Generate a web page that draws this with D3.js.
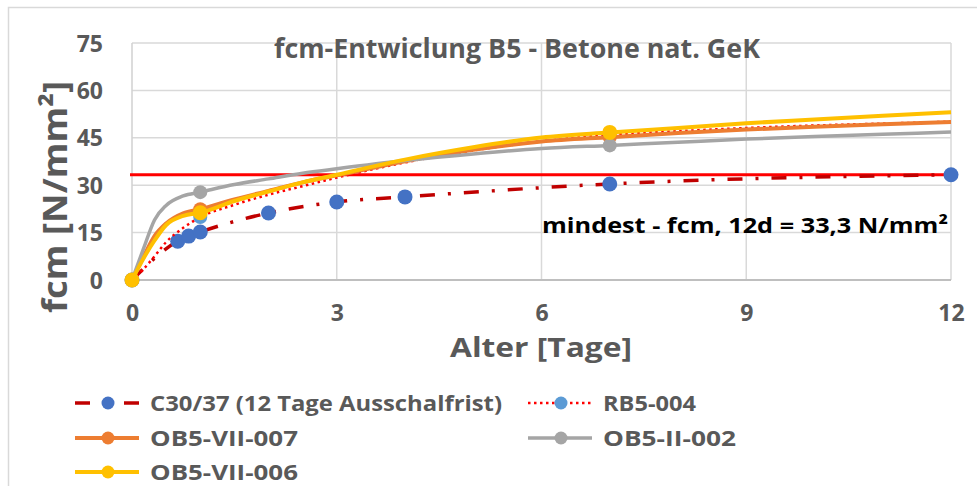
<!DOCTYPE html>
<html>
<head>
<meta charset="utf-8">
<script src="https://cdn.jsdelivr.net/npm/d3@7"></script>
<style>
body{margin:0;background:#fff;}
text{font-family:"Open Sans", "DejaVu Sans", sans-serif;}
</style>
</head>
<body>
<script>
// C30/37 reference curve (measured points)
var c30Days = [0, 0.67, 0.83, 1, 2, 3, 4, 7, 12];
var c30Values = [0, 12.3, 13.9, 15.2, 21.2, 24.7, 26.3, 30.4, 33.3];

// days used for the smooth curves of the mixes
var curveDays = [0, 0.17, 0.33, 0.5, 0.75, 1, 1.5, 2, 2.5, 3, 4, 5, 6, 7, 8, 9, 10, 11, 12];
var rb5Curve = [0, 3.5, 7.5, 12, 16.5, 19.9, 23.8, 27, 29.7, 32.4, 37.2, 41, 43.9, 45.9, 47.1, 48.1, 48.9, 49.5, 50.1];
var ob7Curve = [0, 7.4, 13.9, 17.9, 21.1, 22.4, 25.5, 28.2, 30.9, 33.1, 37.6, 41.2, 43.8, 45.2, 46.5, 47.6, 48.5, 49.3, 50.0];
var ob2Curve = [0, 10, 19, 23.6, 26.6, 27.8, 30.2, 32, 33.8, 35.2, 37.8, 39.9, 41.6, 42.6, 43.6, 44.6, 45.4, 46.1, 46.8];
var ob6Curve = [0, 6.9, 12.5, 17.4, 20.3, 21.3, 25, 28, 30.9, 33.3, 38.1, 42, 45.1, 46.7, 48.1, 49.6, 50.8, 52, 53.1];

// measured points of the mixes
var markDays = [0, 1, 7];
var rb5Marks = [0, 19.9, 45.9];
var ob7Marks = [0, 22.4, 45.2];
var ob2Marks = [0, 27.8, 42.6];
var ob6Marks = [0, 21.3, 46.7];

var minFcm = 33.3;
var xTicks = [0, 3, 6, 9, 12];
var yTicks = [0, 15, 30, 45, 60, 75];

var W = 977, H = 486;
var pLeft = 132, pRight = 951, pTop = 43, pBottom = 280;
var grey = '#595959';

var svg = d3.select('body').append('svg')
	.attr('width', W)
	.attr('height', H);

// chart frame
svg.append('rect')
	.attr('x', 8.5).attr('y', 7.5)
	.attr('width', 1000).attr('height', 600)
	.attr('fill', 'none')
	.attr('stroke', '#D9D9D9')
	.attr('stroke-width', 1.5);

var x = d3.scaleLinear().domain([0, 12]).range([pLeft, pRight]);
var y = d3.scaleLinear().domain([0, 75]).range([pBottom, pTop]);

// grid
svg.append('g').selectAll('line')
	.data(yTicks.slice(1))
	.enter().append('line')
	.attr('x1', pLeft).attr('x2', pRight)
	.attr('y1', function(d){ return y(d); })
	.attr('y2', function(d){ return y(d); })
	.attr('stroke', '#D9D9D9')
	.attr('stroke-width', 1.5);

svg.append('g').selectAll('line')
	.data(xTicks.slice(1))
	.enter().append('line')
	.attr('y1', pTop).attr('y2', pBottom)
	.attr('x1', function(d){ return x(d); })
	.attr('x2', function(d){ return x(d); })
	.attr('stroke', '#D9D9D9')
	.attr('stroke-width', 1.5);

// axes lines
svg.append('line')
	.attr('x1', pLeft).attr('x2', pRight)
	.attr('y1', y(0)).attr('y2', y(0))
	.attr('stroke', '#BFBFBF').attr('stroke-width', 2);
svg.append('line')
	.attr('x1', x(0)).attr('x2', x(0))
	.attr('y1', pTop).attr('y2', pBottom)
	.attr('stroke', '#D0D0D0').attr('stroke-width', 1.5);

// tick labels via d3 axes
var yAxis = svg.append('g')
	.attr('transform', 'translate(' + (pLeft - 29) + ',0)')
	.call(d3.axisLeft(y).tickValues(yTicks).tickSize(0).tickPadding(0));
var xAxis = svg.append('g')
	.attr('transform', 'translate(0,' + (pBottom + 28) + ')')
	.call(d3.axisBottom(x).tickValues(xTicks).tickSize(0).tickPadding(0));

[yAxis, xAxis].forEach(function(a){
	a.select('.domain').remove();
	a.selectAll('text')
		.attr('fill', grey)
		.attr('font-size', '23px')
		.attr('font-weight', 700)
		.style('font-family', '"Open Sans", sans-serif');
});
yAxis.selectAll('text').attr('dy', '0.35em');
xAxis.selectAll('text').attr('dy', '0.55em');

// title and axis titles
svg.append('text')
	.attr('x', 274).attr('y', 58)
	.attr('textLength', 486).attr('lengthAdjust', 'spacingAndGlyphs')
	.attr('font-size', '26px').attr('font-weight', 700)
	.attr('fill', grey)
	.text('fcm-Entwiclung B5 - Betone nat. GeK');

svg.append('text')
	.attr('x', 541).attr('y', 357)
	.attr('text-anchor', 'middle')
	.attr('textLength', 182).attr('lengthAdjust', 'spacingAndGlyphs')
	.attr('font-size', '26px').attr('font-weight', 700)
	.attr('fill', grey)
	.text('Alter [Tage]');

svg.append('text')
	.attr('transform', 'translate(67,197) rotate(-90)')
	.attr('text-anchor', 'middle')
	.attr('textLength', 232).attr('lengthAdjust', 'spacingAndGlyphs')
	.attr('font-size', '34px').attr('font-weight', 700)
	.attr('fill', grey)
	.text('fcm [N/mm²]');

// minimum line
svg.append('line')
	.attr('x1', x(0) - 2).attr('x2', x(12))
	.attr('y1', y(minFcm)).attr('y2', y(minFcm))
	.attr('stroke', '#FF0000')
	.attr('stroke-width', 3);

svg.append('text')
	.attr('x', 542).attr('y', 233)
	.attr('textLength', 406).attr('lengthAdjust', 'spacingAndGlyphs')
	.attr('font-size', '22px').attr('font-weight', 700)
	.attr('fill', '#000')
	.text('mindest - fcm, 12d = 33,3 N/mm²');

var line = d3.line()
	.x(function(d){ return x(d[0]); })
	.y(function(d){ return y(d[1]); })
	.curve(d3.curveMonotoneX);

function pairs(a, b){
	return a.map(function(v, i){ return [v, b[i]]; });
}

var series = [
	{ name: 'C30/37 (12 Tage Ausschalfrist)', curve: pairs(c30Days, c30Values), marks: pairs(c30Days, c30Values),
	  stroke: '#C00000', width: 3.5, dash: '15,13,3,13', marker: '#4472C4', r: 7.5 },
	{ name: 'RB5-004', curve: pairs(curveDays, rb5Curve), marks: pairs(markDays, rb5Marks),
	  stroke: '#FF0000', width: 2.5, dash: '2.5,3.5', marker: '#5B9BD5', r: 7 },
	{ name: 'OB5-VII-007', curve: pairs(curveDays, ob7Curve), marks: pairs(markDays, ob7Marks),
	  stroke: '#ED7D31', width: 4, dash: null, marker: '#ED7D31', r: 7 },
	{ name: 'OB5-II-002', curve: pairs(curveDays, ob2Curve), marks: pairs(markDays, ob2Marks),
	  stroke: '#A5A5A5', width: 3.5, dash: null, marker: '#A5A5A5', r: 7 },
	{ name: 'OB5-VII-006', curve: pairs(curveDays, ob6Curve), marks: pairs(markDays, ob6Marks),
	  stroke: '#FFC000', width: 4, dash: null, marker: '#FFC000', r: 7.5 }
];

series.forEach(function(s){
	var g = svg.append('g');
	g.append('path')
		.datum(s.curve)
		.attr('d', line)
		.attr('fill', 'none')
		.attr('stroke', s.stroke)
		.attr('stroke-width', s.width)
		.attr('stroke-dasharray', s.dash);
	g.selectAll('circle')
		.data(s.marks)
		.enter().append('circle')
		.attr('cx', function(d){ return x(d[0]); })
		.attr('cy', function(d){ return y(d[1]); })
		.attr('r', s.r)
		.attr('fill', s.marker);
});

// legend
var legendPos = [[75, 403], [528, 403], [75, 438], [528, 438], [75, 472]];
var legendWidths = [352, 93, 148, 133, 148];

series.forEach(function(s, i){
	var lx = legendPos[i][0], ly = legendPos[i][1];
	var g = svg.append('g').attr('transform', 'translate(' + lx + ',' + ly + ')');
	if(i == 0){
		g.append('line').attr('x1', 0).attr('x2', 15).attr('y1', 0).attr('y2', 0)
			.attr('stroke', s.stroke).attr('stroke-width', s.width);
		g.append('line').attr('x1', 49).attr('x2', 64).attr('y1', 0).attr('y2', 0)
			.attr('stroke', s.stroke).attr('stroke-width', s.width);
	}
	else{
		g.append('line')
			.attr('x1', 0).attr('x2', 64)
			.attr('y1', 0).attr('y2', 0)
			.attr('stroke', s.stroke)
			.attr('stroke-width', s.width)
			.attr('stroke-dasharray', s.dash);
	}
	g.append('circle')
		.attr('cx', 33).attr('cy', 0)
		.attr('r', 6.5)
		.attr('fill', s.marker);
	g.append('text')
		.attr('x', 75).attr('y', 7.5)
		.attr('textLength', legendWidths[i]).attr('lengthAdjust', 'spacingAndGlyphs')
		.attr('font-size', '22px').attr('font-weight', 700)
		.attr('fill', grey)
		.text(s.name);
});
</script>
</body>
</html>
